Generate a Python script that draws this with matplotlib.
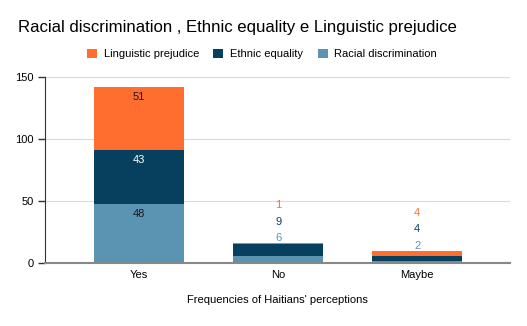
import numpy as np
import matplotlib
matplotlib.use("Agg")
from matplotlib import pyplot as plt

plt.rcParams["font.family"] = ["Liberation Sans", "DejaVu Sans"]

# data
categories = ["Yes", "No", "Maybe"]
racial = [48, 6, 2]
ethnic = [43, 9, 4]
linguistic = [51, 1, 4]

series_names = ["Racial discrimination", "Ethnic equality", "Linguistic prejudice"]
series_vals = [racial, ethnic, linguistic]
colors = ["#5B93B2", "#07405F", "#FF6D2F"]
inside_text = ["#1a1a1a", "white", "#1a1a1a"]

fig = plt.figure(figsize=(5.27, 3.26), dpi=100)
ax = fig.add_axes([0.0854, 0.193, 0.883, 0.571])

x = np.arange(len(categories))
width = 0.65
bottom = np.zeros(len(categories))
bars = []
for vals, col in zip(series_vals, colors):
    b = ax.bar(x, vals, width, bottom=bottom, color=col, zorder=3)
    bars.append(b)
    bottom = bottom + np.array(vals)
totals = bottom

## data labels: inside the segment when tall enough, otherwise stacked above the bar
for i in range(len(categories)):
    big = min(v[i] for v in series_vals) > 10
    base = 0
    for k, (vals, col) in enumerate(zip(series_vals, colors)):
        v = vals[i]
        if big:
            ax.annotate(str(v), xy=(x[i], base + v), xytext=(0, -10),
                        textcoords="offset pixels", ha="center", va="center",
                        fontsize=8, color=inside_text[k], zorder=4)
        else:
            ax.annotate(str(v), xy=(x[i], totals[i]), xytext=(0, 5 + 16.5 * k),
                        textcoords="offset pixels", ha="center", va="center",
                        fontsize=8, color=col, zorder=4)
        base += v

ax.set_xlim(-0.676, 2.67)
ax.set_ylim(0, 150)
ax.set_yticks([0, 50, 100, 150])
ax.set_xticks(x)
ax.set_xticklabels(categories)
ax.tick_params(axis="y", length=5, width=1, color="#333333", labelsize=8, pad=3)
ax.tick_params(axis="x", length=0, labelsize=8, pad=5)
ax.yaxis.grid(True, color="#d9d9d9", linewidth=0.8, zorder=0)
for s in ["top", "right"]:
    ax.spines[s].set_visible(False)
ax.spines["left"].set_color("#333333")
ax.spines["bottom"].set_color("#888888")
ax.spines["bottom"].set_linewidth(1.5)
ax.spines["bottom"].set_zorder(5)

ax.set_xlabel("Frequencies of Haitians' perceptions", fontsize=8, labelpad=11)

fig.text(0.034, 0.917, "Racial discrimination , Ethnic equality e Linguistic prejudice",
         fontsize=12.1, ha="left", va="center")

handles = [bars[2], bars[1], bars[0]]
labels = [series_names[2], series_names[1], series_names[0]]
fig.legend(handles, labels, loc="center", bbox_to_anchor=(0.497, 0.834), ncol=3,
           frameon=False, fontsize=8, handlelength=0.9, handleheight=0.9,
           handletextpad=0.6, columnspacing=1.3)

plt.savefig("out.png", dpi=100)
